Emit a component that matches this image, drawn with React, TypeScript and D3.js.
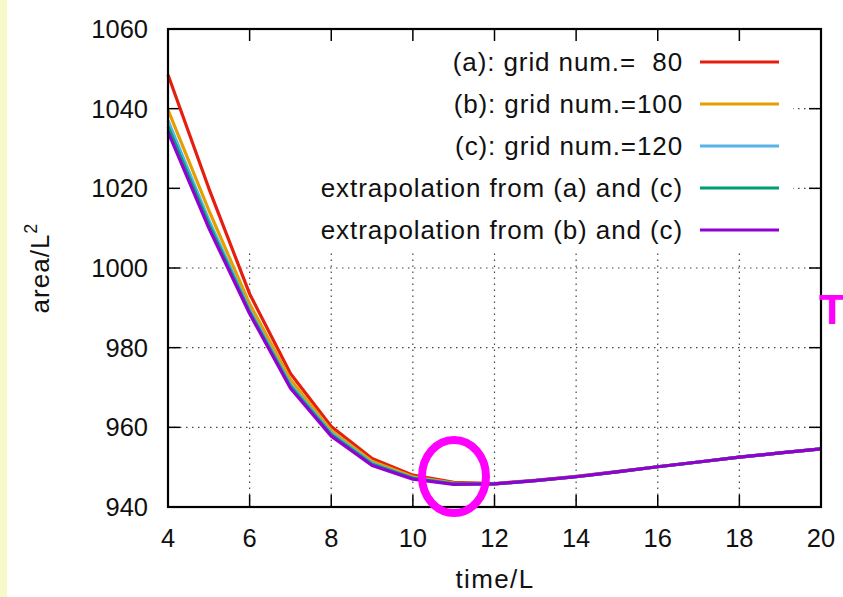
import React from "react";
import * as d3 from "d3";

const times = [4, 5, 6, 7, 8, 9, 10, 11, 12, 13, 14, 15, 16, 17, 18, 19, 20];
const gridA = [1048.5, 1020, 993.5, 973.5, 960.2, 952.2, 948.0, 946.2, 945.9, 946.7, 947.7, 948.9, 950.1, 951.3, 952.5, 953.6, 954.6];
const gridB = [1039.7, 1014.5, 991.0, 972.0, 959.2, 951.5, 947.6, 946.0, 945.8, 946.6, 947.6, 948.8, 950.1, 951.3, 952.5, 953.6, 954.6];
const gridC = [1037.0, 1012.0, 989.5, 970.8, 958.6, 951.0, 947.3, 945.9, 945.8, 946.6, 947.6, 948.8, 950.1, 951.3, 952.5, 953.6, 954.6];
const extrapAC = [1035.5, 1011.0, 989.0, 970.3, 958.2, 950.7, 947.2, 945.8, 945.8, 946.6, 947.6, 948.8, 950.1, 951.3, 952.5, 953.6, 954.6];
const extrapBC = [1034.2, 1010.0, 988.5, 969.8, 957.8, 950.4, 947.0, 945.7, 945.8, 946.6, 947.6, 948.8, 950.1, 951.3, 952.5, 953.6, 954.6];

const seriesNames = [
  "(a): grid num.=  80",
  "(b): grid num.=100",
  "(c): grid num.=120",
  "extrapolation from (a) and (c)",
  "extrapolation from (b) and (c)",
];
const seriesColors = ["#e51e10", "#e69f00", "#56b4e9", "#009e73", "#9400d3"];
const seriesValues = [gridA, gridB, gridC, extrapAC, extrapBC];

const xTicks = [4, 6, 8, 10, 12, 14, 16, 18, 20];
const yTicks = [940, 960, 980, 1000, 1020, 1040, 1060];

const W = 843;
const H = 597;
const L = 168;
const R = 821;
const T = 29;
const B = 507;
const FONT = "'Liberation Sans', Arial, Helvetica, sans-serif";

export default function App() {
  const x = d3.scaleLinear().domain([4, 20]).range([L, R]);
  const y = d3.scaleLinear().domain([940, 1060]).range([B, T]);
  const line = d3
    .line<number>()
    .x((_, i) => x(times[i]))
    .y((v) => y(v));

  const tickLen = 12;
  const gridX = xTicks.filter((t) => t !== 4 && t !== 20);
  const gridY = yTicks.filter((t) => t !== 940 && t !== 1060);
  const legendRows = [62, 104, 146, 188, 230];

  return (
    <svg
      width={W}
      height={H}
      style={{ position: "absolute", left: 0, top: 0, background: "#fff" }}
      fontFamily={FONT}
    >
      <rect x={0} y={0} width={W} height={H} fill="#fff" />
      <rect x={0} y={0} width={7} height={H} fill="#f7fac8" />

      {/* grid */}
      <g stroke="#444" strokeWidth={1.2} strokeDasharray="1.5,4.5">
        {gridX.map((t) => (
          <line key={"gx" + t} x1={x(t)} x2={x(t)} y1={B} y2={T} />
        ))}
        {gridY.map((t) => (
          <line key={"gy" + t} x1={L} x2={R} y1={y(t)} y2={y(t)} />
        ))}
      </g>

      {/* legend box (opaque) */}
      <rect x={L + 1} y={T + 1} width={793 - L - 1} height={250 - T - 1} fill="#fff" />

      {/* ticks */}
      <g stroke="#000" strokeWidth={1.5}>
        {xTicks.map((t) => (
          <g key={"xt" + t}>
            <line x1={x(t)} x2={x(t)} y1={B} y2={B - tickLen} />
            <line x1={x(t)} x2={x(t)} y1={T} y2={T + tickLen} />
          </g>
        ))}
        {yTicks.map((t) => (
          <g key={"yt" + t}>
            <line x1={L} x2={L + tickLen} y1={y(t)} y2={y(t)} />
            <line x1={R} x2={R - tickLen} y1={y(t)} y2={y(t)} />
          </g>
        ))}
      </g>

      {/* series */}
      <g fill="none" strokeWidth={3.2} strokeLinejoin="round">
        {seriesValues.map((vals, i) => (
          <path key={"s" + i} d={line(vals) || ""} stroke={seriesColors[i]} />
        ))}
      </g>

      {/* legend */}
      <g fontSize={26} fill="#111" letterSpacing={0.9}>
        {seriesNames.map((n, i) => (
          <g key={"lg" + i}>
            <text x={683} y={legendRows[i] + 9} textAnchor="end" style={{ whiteSpace: "pre" }}>
              {n}
            </text>
            <line x1={700} x2={779} y1={legendRows[i]} y2={legendRows[i]} stroke={seriesColors[i]} strokeWidth={3} />
          </g>
        ))}
      </g>

      {/* frame */}
      <rect x={L} y={T} width={R - L} height={B - T} fill="none" stroke="#000" strokeWidth={2.2} />

      {/* tick labels */}
      <g fontSize={25.5} fill="#111">
        {xTicks.map((t) => (
          <text key={"xl" + t} x={x(t)} y={547} textAnchor="middle">
            {t}
          </text>
        ))}
        {yTicks.map((t) => (
          <text key={"yl" + t} x={148} y={y(t) + 9} textAnchor="end">
            {t}
          </text>
        ))}
      </g>

      {/* axis labels */}
      <text x={495} y={588} textAnchor="middle" fontSize={26} letterSpacing={1.4} fill="#111">
        time/L
      </text>
      <text transform="translate(49,268) rotate(-90)" textAnchor="middle" fontSize={26} letterSpacing={1} fill="#111">
        area/L
        <tspan fontSize={18} dy={-12}>2</tspan>
      </text>

      {/* annotations */}
      <ellipse cx={454} cy={476.5} rx={32} ry={36.5} fill="none" stroke="#ff00ff" strokeWidth={8} />
      <text x={819} y={324} fontSize={43} fontWeight="bold" fill="#ff00ff">
        T
      </text>
    </svg>
  );
}
